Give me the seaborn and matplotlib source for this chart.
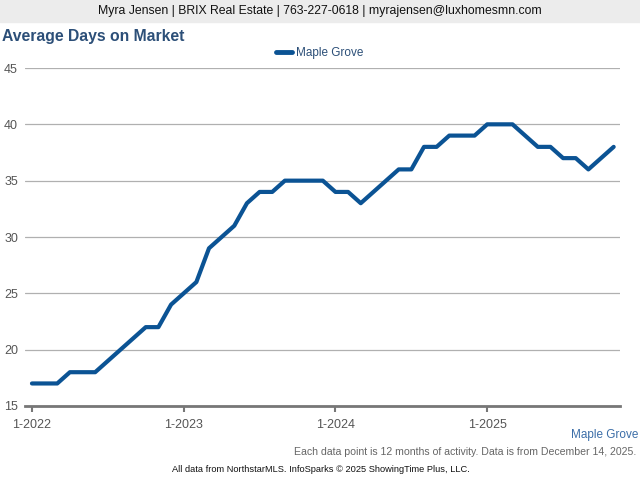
import numpy as np
import pandas as pd
import matplotlib
matplotlib.use("Agg")
import matplotlib.pyplot as plt
import seaborn as sns
from matplotlib.patches import Rectangle

# ---------- data ----------
months = pd.date_range("2022-01-01", "2025-11-01", freq="MS")
days_on_market = [17, 17, 17, 18, 18, 18, 19, 20, 21, 22, 22, 24,
                  25, 26, 29, 30, 31, 33, 34, 34, 35, 35, 35, 35,
                  34, 34, 33, 34, 35, 36, 36, 38, 38, 39, 39, 39,
                  40, 40, 40, 39, 38, 38, 37, 37, 36, 37, 38]
series_name = "Maple Grove"
year_ticks = ["1-2022", "1-2023", "1-2024", "1-2025"]
y_ticks = [15, 20, 25, 30, 35, 40, 45]

df = pd.DataFrame({"idx": np.arange(len(months)), "value": days_on_market,
                   "area": series_name})

# ---------- style ----------
sns.set_theme(style="white")
plt.rcParams["font.family"] = ["Liberation Sans", "DejaVu Sans"]

line_color = "#0b5394"
title_color = "#2c4f78"

fig = plt.figure(figsize=(6.4, 4.8), dpi=100)
ax = fig.add_axes([25 / 640, 1 - 406 / 480, 595 / 640, 338 / 480])

sns.lineplot(data=df, x="idx", y="value", hue="area", palette=[line_color],
             linewidth=3, ax=ax, legend=False)

ax.set_xlim(-0.55, 46.5)
ax.set_ylim(15, 45)
ax.set_yticks(y_ticks)
ax.set_xticks([0, 12, 24, 36])
ax.set_xticklabels(year_ticks)
ax.set_xlabel("")
ax.set_ylabel("")

ax.grid(axis="y", color="#b0b0b0", linewidth=0.9)
ax.grid(axis="x", visible=False)
for s in ["left", "right", "top"]:
    ax.spines[s].set_visible(False)
ax.spines["bottom"].set_color("#777777")
ax.spines["bottom"].set_linewidth(2)
ax.tick_params(axis="x", which="both", bottom=True, length=4, width=1.5,
               color="#777777", labelsize=9, labelcolor="#555555", pad=5)
ax.tick_params(axis="y", left=False, length=0, labelsize=9,
               labelcolor="#555555", pad=5)
ax.set_axisbelow(True)

# ---------- header ----------
fig.patches.append(Rectangle((0, 1 - 22 / 480), 1, 22 / 480,
                             transform=fig.transFigure, color="#ececec", zorder=0))
fig.text(0.5, 1 - 11 / 480,
         "Myra Jensen | BRIX Real Estate | 763-227-0618 | myrajensen@luxhomesmn.com",
         ha="center", va="center", fontsize=8.8, color="#111111")
fig.text(2 / 640, 1 - 36 / 480, "Average Days on Market", ha="left", va="center",
         fontsize=11.3, fontweight="bold", color=title_color)

# legend
fig.legend(handles=[plt.Line2D([], [], color=line_color, linewidth=3.5)],
           labels=[series_name], loc="center", bbox_to_anchor=(0.5, 1 - 53 / 480),
           frameon=False, fontsize=8.5, handlelength=1.3, handletextpad=0.4,
           labelcolor="#2c4f78")

# ---------- footer ----------
fig.text(638 / 640, 1 - 435 / 480, series_name, ha="right", va="center",
         fontsize=8.5, color="#3c6ea8")
fig.text(636 / 640, 1 - 452 / 480,
         "Each data point is 12 months of activity. Data is from December 14, 2025.",
         ha="right", va="center", fontsize=7.6, color="#666666")
fig.text(321 / 640, 1 - 469 / 480,
         "All data from NorthstarMLS. InfoSparks \u00a9 2025 ShowingTime Plus, LLC.",
         ha="center", va="center", fontsize=6.7, color="#111111")

fig.savefig("out.png", dpi=100)
